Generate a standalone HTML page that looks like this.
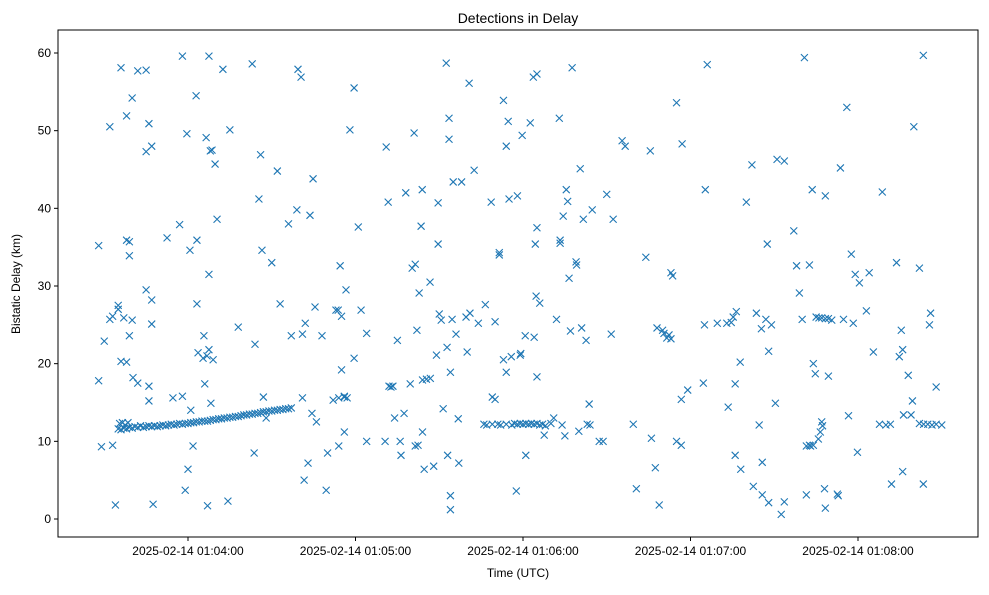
<!DOCTYPE html>
<html><head><meta charset="utf-8">
<style>
html,body{margin:0;padding:0;background:#fff;}
svg text{font-family:"Liberation Sans","DejaVu Sans",sans-serif;fill:#000;}
</style></head>
<body>
<svg id="chart" width="989" height="590" xmlns="http://www.w3.org/2000/svg">
<rect width="989" height="590" fill="#fff"/>
<text x="518" y="23" font-size="14" text-anchor="middle">Detections in Delay</text>
<text x="518" y="577" font-size="12" text-anchor="middle">Time (UTC)</text>
<text x="20" y="284" font-size="12" text-anchor="middle" transform="rotate(-90 20 284)">Bistatic Delay (km)</text>
<g id="ticks"></g>
<g id="marks"></g>
<rect x="58" y="30" width="920" height="507" fill="none" stroke="#000" stroke-width="1"/>
</svg>
<script>
// seconds after 2025-02-14 01:04:00 UTC
const xTickSeconds = [0, 60, 120, 180, 240];
const xTickLabels = ["2025-02-14 01:04:00","2025-02-14 01:05:00","2025-02-14 01:06:00","2025-02-14 01:07:00","2025-02-14 01:08:00"];
const yTicks = [0, 10, 20, 30, 40, 50, 60];
const trailT = [-25,-24.5,-24,-23.5,-23,-22.5,-22,-21.5,-21,-20,-19,-18,-17,-16,-15,-14,-13,-12,-11,-10,-9,-8,-7,-6,-5,-4,-3,-2,-1,0,1,2,3,4,5,6,7,8,9,10,11,12,13,14,15,16,17,18,19,20,21,22,23,24,25,26,27,28,29,30,31,32,33,34,35,36,37];
const trailD = [11.6,12.3,11.5,12.4,11.7,12.1,11.6,12.4,11.8,11.7,11.9,11.8,12.0,11.8,11.9,12.0,11.9,12.0,11.9,12.0,12.1,12.0,12.1,12.2,12.1,12.2,12.3,12.2,12.3,12.3,12.4,12.4,12.5,12.5,12.6,12.6,12.6,12.7,12.8,12.8,12.9,12.9,13.0,13.0,13.1,13.1,13.2,13.2,13.3,13.4,13.4,13.5,13.5,13.6,13.6,13.7,13.8,13.8,13.9,13.9,14.0,14.0,14.1,14.1,14.2,14.2,14.3];
const bandT = [106,107,109,111,112,114,116,117,118,119,120,121,122,123,124,125,126,127,128,130,134,143,144,159.5,247.7,250,251.6,262,263.5,265,266.5,268,270];
const bandD = [12.2,12.1,12.2,12.2,12.1,12.2,12.1,12.3,12.2,12.3,12.2,12.3,12.2,12.3,12.2,12.3,12.1,12.2,12.0,12.3,12.1,12.2,12.1,12.2,12.2,12.1,12.2,12.3,12.2,12.2,12.1,12.2,12.1];
const scatterT = [-32,-32,-31,-30,-28,-28,-27,-27,-26,-25,-25,-24,-24,-23,-22,-22,-22,-21,-21,-21,-20,-20,-19.7,-18,-18,-15,-15,-15,-14,-14,-14,-13,-13,-13,-12.5,-7.5,-5.4,-3,-2,-2,-1,-0.4,0,0.7,1,1.8,2.9,3.2,3.2,3.6,5.4,5.7,6,6.5,6.8,7,7.5,7.5,7.5,8,8.2,8.6,9,9.7,10.4,12.5,14.3,15,18,23,23.7,24,25.4,26,26.5,27,28,30,32,33,36,37,39,39.4,40.5,41,41,41.6,42,43,43.7,44.4,44.8,45.5,46,48,49.5,50,52,53,53.8,54,54.5,54,55,56,57,55,56,56.6,56,58,59.5,59.5,61,62,64,64,70.6,71,71.7,72,72.7,73.4,74,75,76,76.3,77.4,78,79.6,80.3,81,81.4,81.4,82,82.4,82.8,83.5,84,85.4,86.8,83.9,84,84.6,86.7,88,89,89.6,89.6,90.7,90,91.4,92.5,92.8,93,93.5,93.5,94,94,94,94.6,95,96,96.8,97,98,99.6,100,100.7,101,102.5,104,106.5,108.6,109,110,110,111.5,111.5,113,113,114,114,114.7,115,115.8,117.6,118,119,119.2,119.7,120.8,121,122.6,123.7,124,124.4,124.7,125,125,125,126,127.6,131,132,133,133.3,133.3,134.4,135,135.5,136,136.5,137,137.6,139,139.2,140,140.5,141,141.6,142.6,143.7,144.8,147.3,148.7,150,151.6,152.3,155.5,156.6,160.6,164,165.6,166,167.4,168,168.8,170,170.5,171.5,172.3,173,173,173.6,175,175,176.7,176.7,177,179,184.6,185,186,185.3,189.6,193,193.5,194.6,195.3,196,196.4,196,197.8,198,200,202,202.5,203.6,204.6,205.4,205.7,205.7,207,207.5,208,208,209,210.4,211,212.5,213.6,213.6,217,218,219,220,220.8,221.5,221.5,222.6,223,224,222.6,223.6,224,224.7,225,226,227,228.3,229.4,230.6,225.8,226.5,227,227.3,228,228.3,228.3,229.4,232.6,232.9,233.7,234.8,236,236.6,237.6,238.3,239,239.8,240.5,243,244,245.5,248.7,252,253.8,254.8,255.5,256,256,256.3,258,259,259.5,260,262,263.4,263.4,266,265.6,268];
const scatterD = [35.2,17.8,9.3,22.9,50.5,25.7,9.5,26.1,1.8,27.0,27.5,58.1,20.3,25.9,51.9,35.9,20.2,33.9,35.7,23.6,54.2,25.6,18.2,57.7,17.5,57.8,29.5,47.3,15.2,50.9,17.1,25.1,48.0,28.2,1.9,36.2,15.6,37.9,15.8,59.6,3.7,49.6,6.4,34.6,14.0,9.4,54.5,27.7,35.9,21.4,20.7,23.6,17.4,49.1,21.0,1.7,59.6,21.8,31.5,47.4,14.9,47.5,20.5,45.7,38.6,57.9,2.3,50.1,24.7,58.6,8.5,22.5,41.2,46.9,34.6,15.7,13.0,33.0,44.8,27.7,38.0,23.6,39.8,57.9,56.9,15.6,23.8,5.0,25.2,7.2,39.1,13.6,43.8,27.3,12.5,23.6,3.7,8.5,15.3,26.9,26.9,9.4,32.6,15.6,19.2,15.7,15.6,26.1,11.2,29.5,15.8,50.1,55.5,20.7,37.6,26.9,23.9,10.0,10.0,47.9,40.8,17.1,17.0,17.1,13.0,23.0,10.0,8.2,13.6,42.0,17.4,32.3,49.7,32.8,9.4,24.3,9.5,29.1,37.7,17.9,18.0,18.1,42.4,11.2,6.4,30.5,6.8,21.1,40.7,35.4,25.6,26.4,14.2,58.7,22.1,8.2,51.6,48.9,18.9,3.0,1.2,25.7,43.4,23.8,12.9,7.2,43.4,26.0,21.5,56.1,26.5,44.9,25.2,27.6,40.8,15.7,15.4,25.4,34.0,34.3,53.9,20.5,18.9,48.0,51.2,41.2,20.9,3.6,41.6,21.1,21.3,49.4,23.6,8.2,51.0,56.9,23.4,35.4,28.7,57.3,37.5,18.3,27.8,10.8,13.0,25.7,51.6,35.5,35.9,39.0,10.7,42.4,40.9,31.0,24.2,58.1,33.1,32.7,11.3,45.1,24.6,38.6,23.0,14.8,39.8,10.0,10.0,41.8,23.8,38.6,48.7,48.0,3.9,33.7,47.4,10.4,6.6,24.6,1.8,24.3,23.9,23.3,23.7,23.2,31.7,31.3,53.6,10.0,9.5,15.4,48.3,16.6,17.5,25.0,58.5,42.4,25.2,25.2,14.4,25.3,26.0,17.4,26.7,8.2,20.2,6.4,40.8,45.6,4.2,26.5,12.1,24.5,7.3,3.1,25.7,35.4,2.1,21.6,25.0,14.9,46.3,0.6,2.2,46.1,37.1,32.6,29.1,25.7,59.4,3.1,9.4,32.7,9.4,9.5,9.5,42.4,20.0,18.7,26.0,25.9,25.9,25.8,25.8,25.6,10.3,11.2,12.5,12.0,3.9,1.4,41.6,18.4,3.2,3.0,45.2,25.7,53.0,13.3,34.1,25.2,31.5,8.6,30.4,26.8,31.7,21.5,42.1,4.5,33.0,20.9,24.3,21.8,6.1,13.4,18.5,13.4,15.2,50.5,32.3,59.7,4.5,26.5,25.0,17.0];

const L=58,R=978,T=30,B=537;
function xScale(s){ return 188 + s*(670/240); }
function yScale(v){ return 519 - v*(466/60); }
const NS="http://www.w3.org/2000/svg";
const tg=document.getElementById('ticks');
yTicks.forEach(v=>{
  const y=yScale(v);
  const ln=document.createElementNS(NS,'line');
  ln.setAttribute('x1',L-4);ln.setAttribute('x2',L);ln.setAttribute('y1',y);ln.setAttribute('y2',y);
  ln.setAttribute('stroke','#000');
  
  
  tg.appendChild(ln);
  const tx=document.createElementNS(NS,'text');
  tx.setAttribute('x',L-7);tx.setAttribute('y',y+4);tx.setAttribute('font-size','12');tx.setAttribute('text-anchor','end');
  tx.textContent=String(v);
  
  
  tg.appendChild(tx);
});
xTickSeconds.forEach((s,i)=>{
  const x=xScale(s);
  const ln=document.createElementNS(NS,'line');
  ln.setAttribute('x1',x);ln.setAttribute('x2',x);ln.setAttribute('y1',B);ln.setAttribute('y2',B+4);
  ln.setAttribute('stroke','#000');
  
  
  tg.appendChild(ln);
  const tx=document.createElementNS(NS,'text');
  tx.setAttribute('x',x);tx.setAttribute('y',B+18);tx.setAttribute('font-size','12');tx.setAttribute('text-anchor','middle');
  tx.textContent=xTickLabels[i];
  
  
  tg.appendChild(tx);
});
const mg=document.getElementById('marks');
function drawSeries(ts,ds){
  for(let i=0;i<Math.min(ts.length,ds.length);i++){
    const x=xScale(ts[i]), y=yScale(ds[i]), h=3.5;
    const p=document.createElementNS(NS,'path');
    p.setAttribute('d',`M${x-h},${y-h}L${x+h},${y+h}M${x-h},${y+h}L${x+h},${y-h}`);
    p.setAttribute('stroke','#1f77b4');p.setAttribute('stroke-width','1.1');p.setAttribute('fill','none');
    
    
    mg.appendChild(p);
  }
}
drawSeries(trailT,trailD);
drawSeries(bandT,bandD);
drawSeries(scatterT,scatterD);
</script>
</body></html>
